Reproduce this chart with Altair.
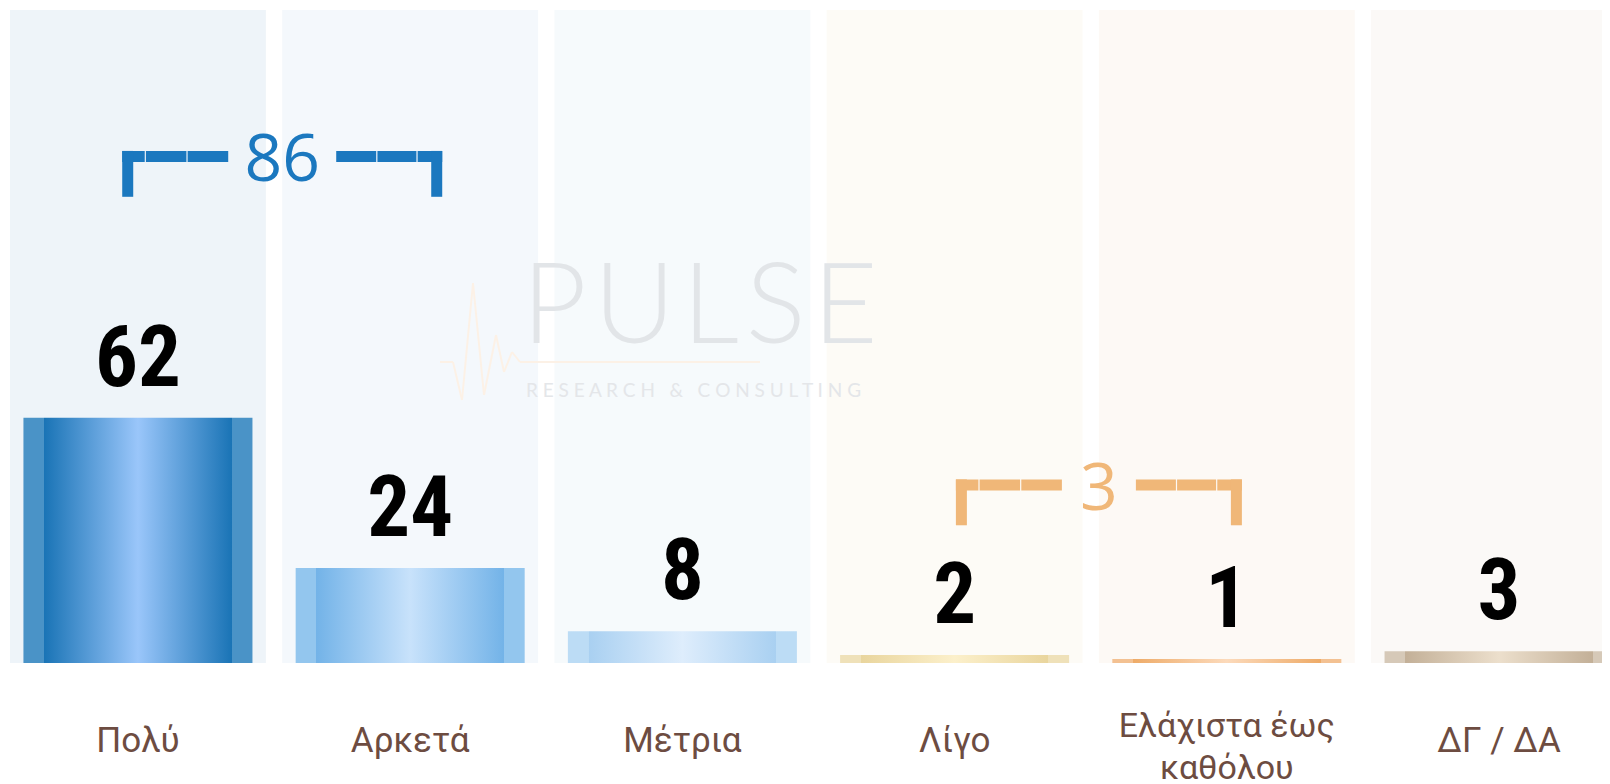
import json
import altair as alt
import pandas as pd

# ---------------- data ----------------
categories = ["Πολύ", "Αρκετά", "Μέτρια", "Λίγο", "Ελάχιστα έως καθόλου", "ΔΓ / ΔΑ"]
values = [62, 24, 8, 2, 1, 3]
label_lines = {"Ελάχιστα έως καθόλου": ["Ελάχιστα έως", "καθόλου"]}

panel_colors = ["#eef4f9", "#f4f8fc", "#f6fafc", "#fdfbf6", "#fdf9f5", "#fbf9f7"]
edge_colors = ["#4a93c7", "#93c6ee", "#bcdcf5", "#efe1b9", "#f3c192", "#d6c9b8"]
deep_colors = ["#1a74b6", "#73b3e8", "#a9d0f1", "#e9d59d", "#eeab68", "#c3b098"]
light_colors = ["#9ac6fa", "#c8e2fb", "#deedfc", "#fcf0cb", "#fcdabb", "#ecdfcc"]

bracket_totals = [86, 3]
bracket_last = ["Αρκετά", "Ελάχιστα έως καθόλου"]
bracket_colors = ["#1b78bf", "#f0b778"]

watermark_title = ["P\u200aU\u200aL\u200aS\u200aE"]
watermark_sub = ["\u00a0".join("RESEARCH") + "\u00a0\u00a0\u00a0&\u00a0\u00a0\u00a0" + "\u00a0".join("CONSULTING")]

# ---------------- layout / style ----------------
PLOT_W = 1617          # full band range; the svg clips the last panel like the reference
SVG_W = 1594           # keeps the page exactly 1610px wide
PAD_LEFT = 2
H = 653
Y_MAX = 165
PAD_INNER = 0.06
BAR_FRAC = 0.895
EDGE = 0.09
BRACKET_LEVEL = [128, 45]
LEG_DEPTH = 10.2
ARM = 106
THICK = 11
LABEL_FONT = "Roboto, sans-serif"
VALUE_FONT = "Roboto Condensed, Noto Sans Condensed, Open Sans Condensed, Roboto, sans-serif"

df = pd.DataFrame({"cat": categories, "value": values, "top": [Y_MAX] * len(categories)})

multi = list(label_lines.keys())
label_expr = "datum.label"
for k, v in label_lines.items():
    label_expr = f"datum.label == {json.dumps(k, ensure_ascii=False)} ? {json.dumps(v, ensure_ascii=False)} : " + label_expr
multi_test = " || ".join(f"datum.value == {json.dumps(k, ensure_ascii=False)}" for k in multi)

x_scale = alt.Scale(type="band", domain=categories, paddingInner=PAD_INNER, paddingOuter=0)
y_scale = alt.Scale(domain=[0, Y_MAX], nice=False, zero=True)

x_axis = alt.Axis(
    title=None, domain=False, ticks=False, grid=False, labelAngle=0,
    labelFont=LABEL_FONT, labelColor="#6d4c41",
    labelFontSize={"condition": {"test": multi_test, "value": 34}, "value": 35},
    labelLimit=500, labelBaseline="middle", labelLineHeight=42,
    labelExpr=label_expr,
    labelPadding={"condition": {"test": multi_test, "value": 63}, "value": 77},
)

X = alt.X("cat:N", scale=x_scale, axis=x_axis, sort=categories)
X_noaxis = alt.X("cat:N", scale=x_scale, axis=None, sort=categories)
Yv = alt.Y("value:Q", scale=y_scale, axis=None)

base = alt.Chart(df)

panels = base.mark_bar().encode(
    x=X,
    y=alt.Y("top:Q", scale=y_scale, axis=None),
    color=alt.Color("cat:N", scale=alt.Scale(domain=categories, range=panel_colors), legend=None),
)

# watermark (decoration, fixed in the view)
wm_title = alt.Chart(pd.DataFrame({"t": watermark_title})).mark_text(
    font="Lato", fontWeight=300, fontSize=112, color="#e2e5e8", align="left", baseline="alphabetic"
).encode(x=alt.value(512), y=alt.value(333), text="t:N")
wm_sub = alt.Chart(pd.DataFrame({"t": watermark_sub})).mark_text(
    font="Lato", fontWeight=400, fontSize=19, color="#e4e6e9", align="left", baseline="alphabetic"
).encode(x=alt.value(516), y=alt.value(387), text="t:N")
pulse_pts = [(430, 352), (443, 352), (452, 390), (463, 273), (474, 385), (486, 325), (494, 362), (502, 342), (510, 352), (750, 352)]
wm_pulse = [
    alt.Chart(pd.DataFrame({"t": [0]})).mark_rule(color="#fcf1e6", strokeWidth=2).encode(
        x=alt.value(a[0]), x2=alt.value(b[0]), y=alt.value(a[1]), y2=alt.value(b[1])
    )
    for a, b in zip(pulse_pts[:-1], pulse_pts[1:])
]

layers = [panels, *wm_pulse, wm_title, wm_sub]

for i, cat in enumerate(categories):
    grad = alt.LinearGradient(
        gradient="linear", x1=0, x2=1, y1=0, y2=0,
        stops=[
            alt.GradientStop(color=edge_colors[i], offset=0),
            alt.GradientStop(color=edge_colors[i], offset=EDGE),
            alt.GradientStop(color=deep_colors[i], offset=EDGE + 0.001),
            alt.GradientStop(color=light_colors[i], offset=0.5),
            alt.GradientStop(color=deep_colors[i], offset=1 - EDGE - 0.001),
            alt.GradientStop(color=edge_colors[i], offset=1 - EDGE),
            alt.GradientStop(color=edge_colors[i], offset=1),
        ],
    )
    layers.append(
        base.transform_filter(alt.datum.cat == cat)
        .mark_bar(color=grad, width=alt.RelativeBandSize(BAR_FRAC))
        .encode(x=X_noaxis, y=Yv)
    )

labels = base.mark_text(
    font=VALUE_FONT, fontWeight="bold", fontSize=85, color="#000000", baseline="alphabetic", dy=-32
).encode(x=X_noaxis, y=Yv, text="value:Q")
layers.append(labels)

# brackets on a linear scale whose unit is one band step
xb_scale = alt.Scale(domain=[0, len(categories) - PAD_INNER], nice=False, zero=False)
bdf = pd.DataFrame({
    "mid": [categories.index(c) for c in bracket_last],
    "total": bracket_totals,
    "level": BRACKET_LEVEL,
    "leg": [l - LEG_DEPTH for l in BRACKET_LEVEL],
})
XB = alt.X("mid:Q", scale=xb_scale, axis=None)
XB2 = alt.X2("mid:Q")
YB = alt.Y("level:Q", scale=y_scale, axis=None)

bracket_layers = []
for b in range(len(bracket_totals)):
    c = bracket_colors[b]
    hg = 17 * len(str(bracket_totals[b])) + 20
    bb = alt.Chart(bdf.iloc[[b]])
    bracket_layers += [
        bb.mark_rule(color=c, strokeWidth=THICK, xOffset=-(hg + ARM), x2Offset=-hg,
                     strokeDash=[22.5, 1.2, 40.5, 1.2, 200]).encode(x=XB, x2=XB2, y=YB),
        bb.mark_rule(color=c, strokeWidth=THICK, xOffset=hg, x2Offset=hg + ARM,
                     strokeDash=[40, 1.2, 39, 1.2, 200]).encode(x=XB, x2=XB2, y=YB),
        bb.mark_rule(color=c, strokeWidth=THICK, xOffset=-(hg + ARM - THICK / 2), yOffset=-THICK / 2).encode(
            x=XB, y=YB, y2=alt.Y2("leg:Q")),
        bb.mark_rule(color=c, strokeWidth=THICK, xOffset=hg + ARM - THICK / 2, yOffset=-THICK / 2).encode(
            x=XB, y=YB, y2=alt.Y2("leg:Q")),
        bb.mark_text(font="Open Sans", fontSize=66, color=c, baseline="alphabetic", dy=25).encode(
            x=XB, y=YB, text="total:Q"),
    ]

chart = (
    alt.layer(*layers, *bracket_layers)
    .resolve_scale(x="independent", color="independent")
    .properties(
        width=PLOT_W, height=H,
        padding={"left": PAD_LEFT, "top": 2, "right": SVG_W - PAD_LEFT - PLOT_W, "bottom": 130},
        autosize=alt.AutoSizeParams(type="none"),
        background="#ffffff",
    )
    .configure_view(stroke=None)
)

chart.save("out.html", embed_options={"renderer": "svg", "actions": False})
